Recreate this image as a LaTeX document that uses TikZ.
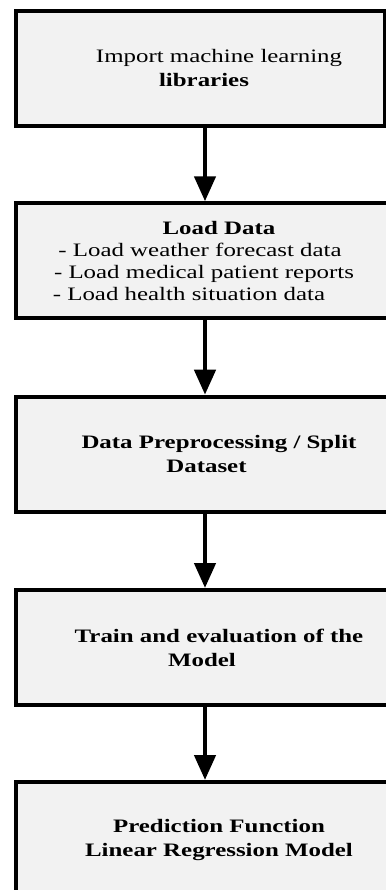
\documentclass[tikz,border=0pt]{standalone}
\usepackage{fontspec}
\setmainfont{Liberation Serif}[FakeStretch=1.31]
\usetikzlibrary{arrows.meta}
\definecolor{boxgray}{RGB}{242,242,242}
\tikzset{
  stagebox/.style={draw=black, line width=4pt, fill=boxgray, inner sep=0pt, minimum height=115pt, anchor=north west},
  stagetext/.style={align=center, inner sep=0pt, font=\fontsize{19}{24}\selectfont},
  flow/.style={black, line width=4.5pt, -{Triangle[length=25pt, width=21pt]}}
}
\newcommand{\padleft}[1]{\hspace*{#1}\mbox{}}

\begin{document}
\begin{tikzpicture}[x=1pt, y=1pt]
        \useasboundingbox (0,0) rectangle (385,-890);
        \fill[white] (0,0) rectangle (385,-890);  % Background
        \coordinate (tx) at (219,0);  % Text axis
        \coordinate (ax) at (205,0);  % Arrow axis
        % Boxes
        \node[stagebox, minimum width=369pt] (libs) at (13.7,-8.7) {};
        \node[stagebox, minimum width=380pt] (load) at (13.7,-201.3) {};
        \node[stagebox, minimum width=380pt] (prep) at (13.7,-394.7) {};
        \node[stagebox, minimum width=380pt] (train) at (13.7,-588) {};
        \node[stagebox, minimum width=380pt] (pred) at (13.7,-780) {};
        % Texts
        \node[stagetext] (libs-t) at (libs.center -| tx) {Import machine learning\\ \textbf{libraries}\padleft{30pt}};
        \node[stagetext, font=\fontsize{19}{22}\selectfont] (load-t) at (load.center -| tx) {\textbf{Load Data}\\ - Load weather forecast data\padleft{38pt}\\ - Load medical patient reports\padleft{30pt}\\ - Load health situation data\padleft{60pt}};
        \node[stagetext] (prep-t) at (prep.center -| tx) {\textbf{Data Preprocessing / Split}\\ \textbf{Dataset}\padleft{25pt}};
        \node[stagetext] (train-t) at (train.center -| tx) {\textbf{Train and evaluation of the}\\ \textbf{Model}\padleft{34pt}};
        \node[stagetext] (pred-t) at (pred.center -| tx) {\textbf{Prediction Function}\\ \textbf{Linear Regression Model}};
        % Arrows
        \draw[flow] (libs.south -| ax) -- (load.north -| ax);
        \draw[flow] (load.south -| ax) -- (prep.north -| ax);
        \draw[flow] (prep.south -| ax) -- (train.north -| ax);
        \draw[flow] (train.south -| ax) -- (pred.north -| ax);
    \end{tikzpicture}
\end{document}
